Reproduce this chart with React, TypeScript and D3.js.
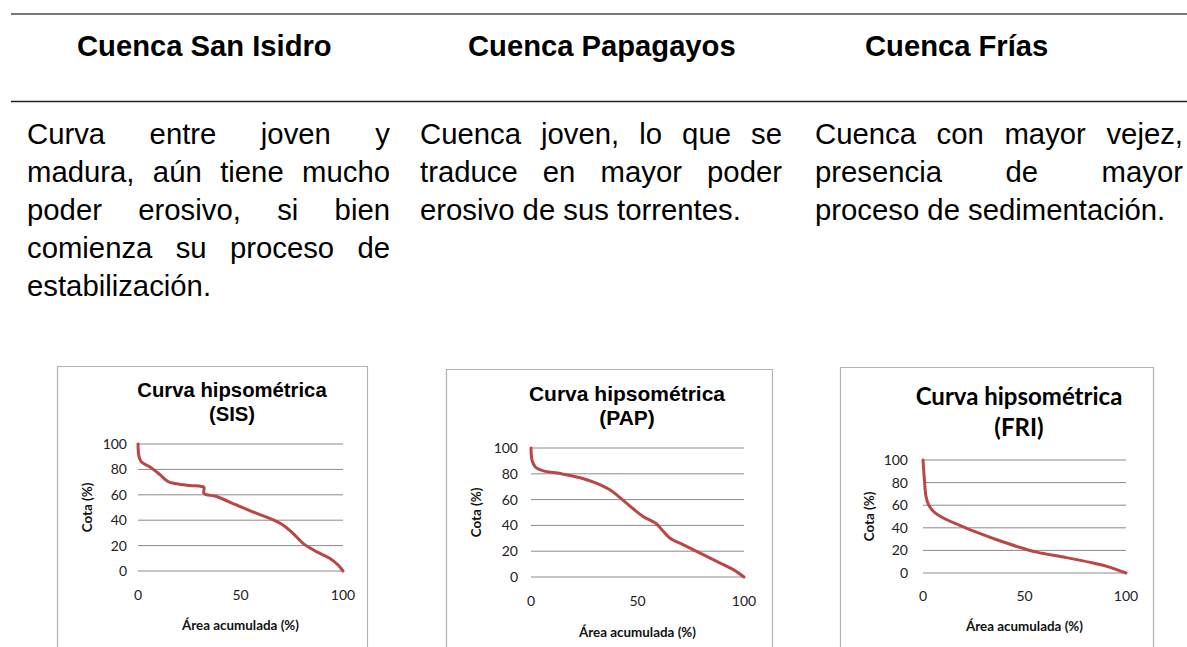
import React from "react";
import * as d3 from "d3";

// ---------- DATA ----------
const headers = ["Cuenca San Isidro", "Cuenca Papagayos", "Cuenca Frías"];
const descSIS = [
  "Curva entre joven y",
  "madura, aún tiene mucho",
  "poder erosivo, si bien",
  "comienza su proceso de",
  "estabilización.",
];
const descPAP = [
  "Cuenca joven, lo que se",
  "traduce en mayor poder",
  "erosivo de sus torrentes.",
];
const descFRI = [
  "Cuenca con mayor vejez,",
  "presencia de mayor",
  "proceso de sedimentación.",
];
const chartTitle = "Curva hipsométrica";
const chartCodes = ["(SIS)", "(PAP)", "(FRI)"];
const xLabel = "Área acumulada (%)";
const yLabel = "Cota (%)";
const yTicks = [0, 20, 40, 60, 80, 100];
const xTicks = [0, 50, 100];

const sisArea = [0, 0.5, 1.6, 5.7, 10.6, 14.6, 18.7, 25.2, 30.9, 32.2, 32.2, 38.2, 48, 57.7, 65.9, 70.7, 75.6, 80.5, 87, 93.5, 97.6, 100];
const sisCota = [100, 90, 86, 82, 76, 70.5, 68.7, 67.4, 66.6, 65.8, 61, 58.7, 52, 45.5, 40.3, 36.3, 29.7, 21.8, 15.3, 10, 4.7, 0];

const papArea = [0, 0.5, 2, 5.9, 13.8, 23.1, 30.9, 37.2, 42.7, 48.1, 52.8, 59.1, 62.2, 65.3, 71.6, 79.4, 87.2, 95, 100];
const papCota = [100, 90.5, 85.3, 82.3, 80.2, 76.9, 72.5, 67.4, 60.2, 52.7, 46.8, 40.9, 35.2, 30.1, 24.9, 18.5, 12.1, 5.7, 0];

const friArea = [0, 0.7, 1.5, 2.8, 5.2, 10.2, 18.4, 26.6, 36.4, 46.2, 56.1, 69.2, 82.3, 90.5, 100];
const friCota = [100, 82.4, 67.6, 60.3, 54.4, 48.5, 42, 35.9, 29.4, 23.5, 18.5, 14.1, 9.4, 5.9, 0];

// ---------- LAYOUT ----------
const W = 1187;
const H = 647;
const BODY_FONT = 29.3;
const HEAD_FONT = 29.2;
const TICK_FONT = 14;
const AXIS_FONT = 13.4;
const sans = "'Liberation Sans', Arial, sans-serif";
const calibri = "Lato, 'Open Sans', sans-serif";

const columns = [
  { left: 27, right: 390, headerX: 77, lines: descSIS },
  { left: 420, right: 782, headerX: 468, lines: descPAP },
  { left: 815, right: 1183, headerX: 865, lines: descFRI },
];

const charts = [
  {
    area: sisArea, cota: sisCota, code: chartCodes[0],
    frame: { x0: 57, x1: 367, y0: 366 },
    plot: { x0: 138, x1: 343, yTop: 444, yBot: 571 },
    title: { cx: 232, b1: 397, b2: 421, size: 20.3, font: sans },
    tickRight: 127, xTickBase: 600, xTitleBase: 630, yTitleX: 92,
  },
  {
    area: papArea, cota: papCota, code: chartCodes[1],
    frame: { x0: 446, x1: 772, y0: 369 },
    plot: { x0: 531, x1: 744, yTop: 448, yBot: 577 },
    title: { cx: 627, b1: 401, b2: 425, size: 21, font: sans },
    tickRight: 518, xTickBase: 606, xTitleBase: 637, yTitleX: 481,
  },
  {
    area: friArea, cota: friCota, code: chartCodes[2],
    frame: { x0: 840, x1: 1153, y0: 367 },
    plot: { x0: 923, x1: 1126, yTop: 460, yBot: 573 },
    title: { cx: 1019, b1: 405, b2: 436, size: 24, font: calibri },
    tickRight: 908, xTickBase: 601, xTitleBase: 631, yTitleX: 874,
  },
];

let ctx: CanvasRenderingContext2D | null = null;
function measure(text: string, font: string) {
  if (!ctx) ctx = document.createElement("canvas").getContext("2d");
  ctx!.font = font;
  return ctx!.measureText(text).width;
}

function JustifiedLine({ text, left, right, y, justify }: any) {
  const font = `${BODY_FONT}px 'Liberation Sans'`;
  const words = text.split(" ");
  if (!justify || words.length < 2) {
    return (
      <text x={left} y={y} fontSize={BODY_FONT} fontFamily={sans} fill="#000">
        {text}
      </text>
    );
  }
  const widths = words.map((w: string) => measure(w, font));
  const total = d3.sum(widths);
  const gap = (right - left - total) / (words.length - 1);
  let x = left;
  return (
    <g>
      {words.map((w: string, i: number) => {
        const el = (
          <text key={i} x={x} y={y} fontSize={BODY_FONT} fontFamily={sans} fill="#000">
            {w}
          </text>
        );
        x += widths[i] + gap;
        return el;
      })}
    </g>
  );
}

function Chart({ c }: any) {
  const x = d3.scaleLinear().domain([0, 100]).range([c.plot.x0, c.plot.x1]);
  const y = d3.scaleLinear().domain([0, 100]).range([c.plot.yBot, c.plot.yTop]);
  const pts: [number, number][] = c.area.map((a: number, i: number) => [a, c.cota[i]]);
  const line = d3
    .line<[number, number]>()
    .x((d) => x(d[0]))
    .y((d) => y(d[1]))
    .curve(d3.curveCatmullRom.alpha(0.5));
  const pcx = (c.plot.x0 + c.plot.x1) / 2;
  const pcy = (c.plot.yTop + c.plot.yBot) / 2;
  return (
    <g>
      <path
        d={`M${c.frame.x0 + 0.5},${H + 5}V${c.frame.y0 + 0.5}H${c.frame.x1 + 0.5}V${H + 5}`}
        fill="none"
        stroke="#b4b4b4"
        strokeWidth={1.2}
      />
      <text x={c.title.cx} y={c.title.b1} textAnchor="middle" fontSize={c.title.size} fontWeight="bold" fontFamily={c.title.font} fill="#000">
        {chartTitle}
      </text>
      <text x={c.title.cx} y={c.title.b2} textAnchor="middle" fontSize={c.title.size} fontWeight="bold" fontFamily={c.title.font} fill="#000">
        {c.code}
      </text>
      {yTicks.map((t) => (
        <g key={t}>
          <line x1={c.plot.x0} x2={c.plot.x1} y1={y(t)} y2={y(t)} stroke="#8a8a8a" strokeWidth={1} />
          <text x={c.tickRight} y={y(t)} dy="0.35em" textAnchor="end" fontSize={TICK_FONT} fontFamily={calibri} fill="#222">
            {t}
          </text>
        </g>
      ))}
      {xTicks.map((t) => (
        <text key={t} x={x(t)} y={c.xTickBase} textAnchor="middle" fontSize={TICK_FONT} fontFamily={calibri} fill="#222">
          {t}
        </text>
      ))}
      <text x={pcx} y={c.xTitleBase} textAnchor="middle" fontSize={AXIS_FONT} fontWeight="bold" fontFamily={calibri} fill="#111">
        {xLabel}
      </text>
      <text
        transform={`translate(${c.yTitleX},${pcy}) rotate(-90)`}
        textAnchor="middle"
        fontSize={AXIS_FONT}
        fontWeight="bold"
        fontFamily={calibri}
        fill="#111"
      >
        {yLabel}
      </text>
      <path d={line(pts) || ""} fill="none" stroke="#bb4744" strokeWidth={3} strokeLinejoin="round" strokeLinecap="round" />
    </g>
  );
}

export default function App() {
  return (
    <svg
      width={W}
      height={H}
      viewBox={`0 0 ${W} ${H}`}
      style={{ position: "absolute", left: 0, top: 0, background: "#fff" }}
    >
      <rect width={W} height={H} fill="#fff" />
      <line x1={11} x2={W} y1={14} y2={14} stroke="#4a4a4a" strokeWidth={1.6} />
      <line x1={11} x2={W} y1={101.5} y2={101.5} stroke="#222" strokeWidth={1.6} />
      {columns.map((col, ci) => (
        <g key={ci}>
          <text x={col.headerX} y={56} fontSize={HEAD_FONT} fontWeight="bold" fontFamily={sans} fill="#000">
            {headers[ci]}
          </text>
          {col.lines.map((ln, li) => (
            <JustifiedLine
              key={li}
              text={ln}
              left={col.left}
              right={col.right}
              y={144 + li * 38}
              justify={li < col.lines.length - 1}
            />
          ))}
        </g>
      ))}
      {charts.map((c, i) => (
        <Chart key={i} c={c} />
      ))}
    </svg>
  );
}
